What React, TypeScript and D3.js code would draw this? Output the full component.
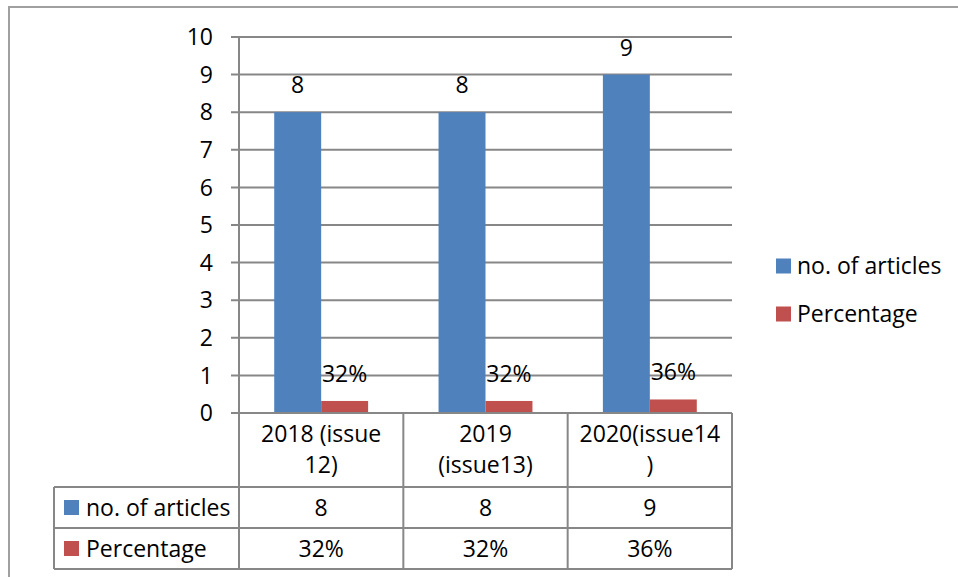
import React from "react";
import * as d3 from "d3";

const categories = ["2018 (issue 12)", "2019 (issue13)", "2020(issue14)"];
const categoryLines = [["2018 (issue", "12)"], ["2019", "(issue13)"], ["2020(issue14", ")"]];
const seriesNames = ["no. of articles", "Percentage"];
const articles = [8, 8, 9];
const percentages = [0.32, 0.32, 0.36];
const yTicks = [0, 1, 2, 3, 4, 5, 6, 7, 8, 9, 10];
const colors = ["#4F81BD", "#C0504D"];

const W = 958;
const H = 577;
const FONT = "'Open Sans', sans-serif";
const FS = 23;
const GRID = "#878787";

export default function App() {
  const plotLeft = 239;
  const plotRight = 732;
  const plotTop = 37;
  const plotBottom = 413;
  const x0 = d3.scaleBand<string>().domain(categories).range([plotLeft, plotRight]).paddingInner(0).paddingOuter(0);
  const x1 = d3.scaleBand<string>().domain(seriesNames).range([0, x0.bandwidth()]).paddingInner(0).paddingOuter(0.75);
  const y = d3.scaleLinear().domain([0, 10]).range([plotBottom, plotTop]);
  const pct = d3.format(".0%");

  const rowTops = [413, 487, 528, 569];
  const tableLeft = 54;

  const seriesValues = [articles, percentages];
  const seriesLabels = [articles.map(String), percentages.map(pct)];

  return (
    <svg width={W} height={H} style={{ position: "absolute", left: 0, top: 0, background: "#fff" }} fontFamily={FONT}>
      <rect x={0} y={0} width={W} height={H} fill="#fff" />
      {/* outer chart border */}
      <rect x={9} y={7} width={1200} height={1200} fill="none" stroke="#a0a0a0" strokeWidth={2} />

      {/* gridlines and ticks */}
      {yTicks.map((t) => (
        <g key={t}>
          <line x1={231} x2={plotRight} y1={y(t)} y2={y(t)} stroke={GRID} strokeWidth={2} />
          <text x={213} y={y(t)} dy="0.36em" textAnchor="end" fontSize={FS} fill="#000">{t}</text>
        </g>
      ))}

      {/* bars */}
      {seriesNames.map((s, si) =>
        categories.map((c, ci) => {
          const v = seriesValues[si][ci];
          const bx = (x0(c) as number) + (x1(s) as number);
          const bw = x1.bandwidth();
          return (
            <g key={s + c}>
              <rect x={bx} y={y(v)} width={bw} height={plotBottom - y(v)} fill={colors[si]} />
              <text x={bx + bw / 2} y={y(v) - 19} textAnchor="middle" fontSize={FS} fill="#000">{seriesLabels[si][ci]}</text>
            </g>
          );
        })
      )}

      {/* y axis line */}
      <line x1={plotLeft} x2={plotLeft} y1={plotTop} y2={rowTops[3]} stroke={GRID} strokeWidth={2} />
      <line x1={231} x2={plotRight} y1={plotBottom} y2={plotBottom} stroke={GRID} strokeWidth={2} />

      {/* data table */}
      <g stroke={GRID} strokeWidth={2} fill="none">
        {categories.map((c) => (
          <line key={c} x1={(x0(c) as number) + x0.bandwidth()} x2={(x0(c) as number) + x0.bandwidth()} y1={rowTops[0]} y2={rowTops[3]} />
        ))}
        <line x1={tableLeft} x2={plotRight} y1={rowTops[1]} y2={rowTops[1]} />
        <line x1={tableLeft} x2={plotRight} y1={rowTops[2]} y2={rowTops[2]} />
        <line x1={tableLeft} x2={plotRight} y1={rowTops[3]} y2={rowTops[3]} />
        <line x1={tableLeft} x2={tableLeft} y1={rowTops[1]} y2={rowTops[3]} />
      </g>
      {categories.map((c, ci) => (
        <text key={c} x={(x0(c) as number) + x0.bandwidth() / 2} textAnchor="middle" fontSize={FS} fill="#000">
          {categoryLines[ci].map((ln, li) => (
            <tspan key={li} x={(x0(c) as number) + x0.bandwidth() / 2} y={434 + li * 31} dy="0.36em">{ln}</tspan>
          ))}
        </text>
      ))}
      {seriesNames.map((s, si) => {
        const top = rowTops[si + 1];
        const bot = rowTops[si + 2];
        const cy = (top + bot) / 2;
        return (
          <g key={s}>
            <rect x={64} y={cy - 7.5} width={15} height={15} fill={colors[si]} />
            <text x={86} y={cy} dy="0.36em" fontSize={FS} fill="#000">{s}</text>
            {categories.map((c, ci) => (
              <text key={c} x={(x0(c) as number) + x0.bandwidth() / 2} y={cy} dy="0.36em" textAnchor="middle" fontSize={FS} fill="#000">
                {seriesLabels[si][ci]}
              </text>
            ))}
          </g>
        );
      })}

      {/* legend */}
      {seriesNames.map((s, si) => {
        const cy = 266 + si * 48;
        return (
          <g key={s}>
            <rect x={776} y={cy - 7.5} width={15} height={15} fill={colors[si]} />
            <text x={797} y={cy} dy="0.36em" fontSize={FS} fill="#000">{s}</text>
          </g>
        );
      })}
    </svg>
  );
}
